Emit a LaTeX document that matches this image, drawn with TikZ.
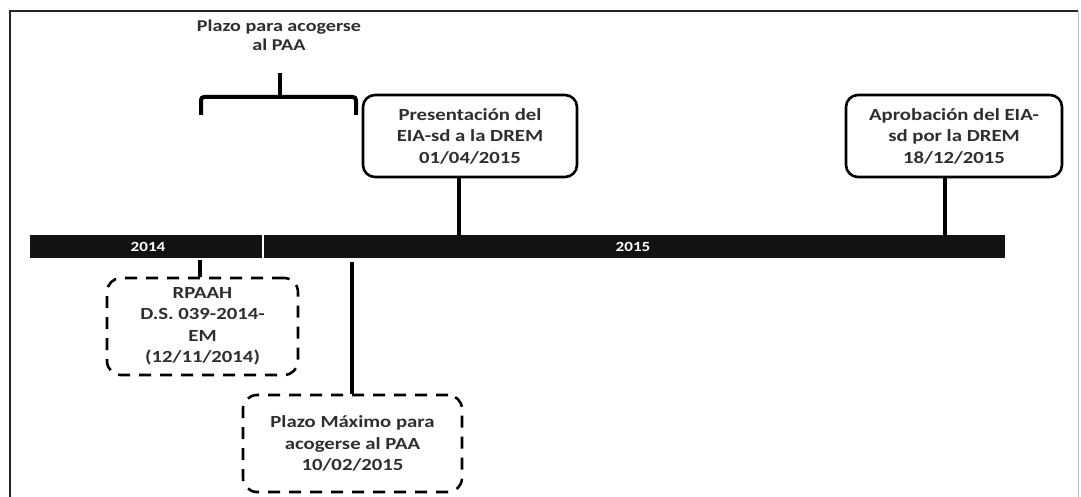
\documentclass[tikz,border=0pt]{standalone}
\usepackage{fontspec}
\setmainfont{Carlito}[FakeStretch=1.22]
\begin{document}
\begin{tikzpicture}[x=1pt,y=-1pt,
  txt/.style={font=\bfseries\fontsize{17}{21.5}\selectfont, text=black!82, align=center},
  solidbox/.style={txt, draw=black, line width=2.6pt, rounded corners=12pt, fill=white, inner sep=0pt},
  dashbox/.style={txt, draw=black, line width=2.6pt, rounded corners=14pt, dash pattern=on 12pt off 9pt, inner sep=0pt},
  stem/.style={draw=black, line width=3.5pt},
  yearlbl/.style={font=\bfseries\fontsize{14}{16}\selectfont, text=white}
]
\useasboundingbox (0,0) rectangle (1081,497);
% frame
\draw[black!85, line width=2.5pt] (10,497) -- (10,11) -- (1078,11);
\draw[black!25, line width=1pt] (1078,11) -- (1078,497);
% timeline bar
\fill[black!93] (30,235) rectangle (1005,258);
\draw[white, line width=1.5pt] (263,235) -- (263,258);
\node[yearlbl] (y14) at (148,247) {2014};
\node[yearlbl] (y15) at (633,247) {2015};
% brace
\node[txt, font=\bfseries\fontsize{16.5}{19}\selectfont] (plazo) at (279,35) {Plazo para acogerse\\al PAA};
\coordinate (bl) at (201,115);
\coordinate (br) at (356,115);
\coordinate (bt) at (280,73);
\draw[black, line width=4pt, rounded corners=3pt] (bl) -- (201,97) -- (356,97) -- (br);
\draw[black, line width=4pt] (bt) -- (280,97);
% boxes
\node[solidbox, minimum width=214pt, minimum height=82pt] (b1) at (470,136) {Presentación del\\EIA-sd a la DREM\\01/04/2015};
\node[solidbox, minimum width=216pt, minimum height=82pt] (b2) at (954,136) {Aprobación del EIA-\\sd por la DREM\\18/12/2015};
\node[dashbox, minimum width=191pt, minimum height=97pt] (b3) at (202.5,326.5) {RPAAH\\D.S. 039-2014-\\EM\\(12/11/2014)};
\node[dashbox, minimum width=219pt, minimum height=97pt] (b4) at (352.5,443.5) {Plazo Máximo para\\acogerse al PAA\\10/02/2015};
% stems
\coordinate (s1) at (459,236);
\coordinate (s2) at (945,236);
\coordinate (s3) at (200,260);
\coordinate (s4) at (352,262);
\draw[stem] (b1.south -| s1) -- (s1);
\draw[stem] (b2.south -| s2) -- (s2);
\draw[stem] (s3) -- (b3.north -| s3);
\draw[stem] (s4) -- (b4.north -| s4);
\end{tikzpicture}
\end{document}
